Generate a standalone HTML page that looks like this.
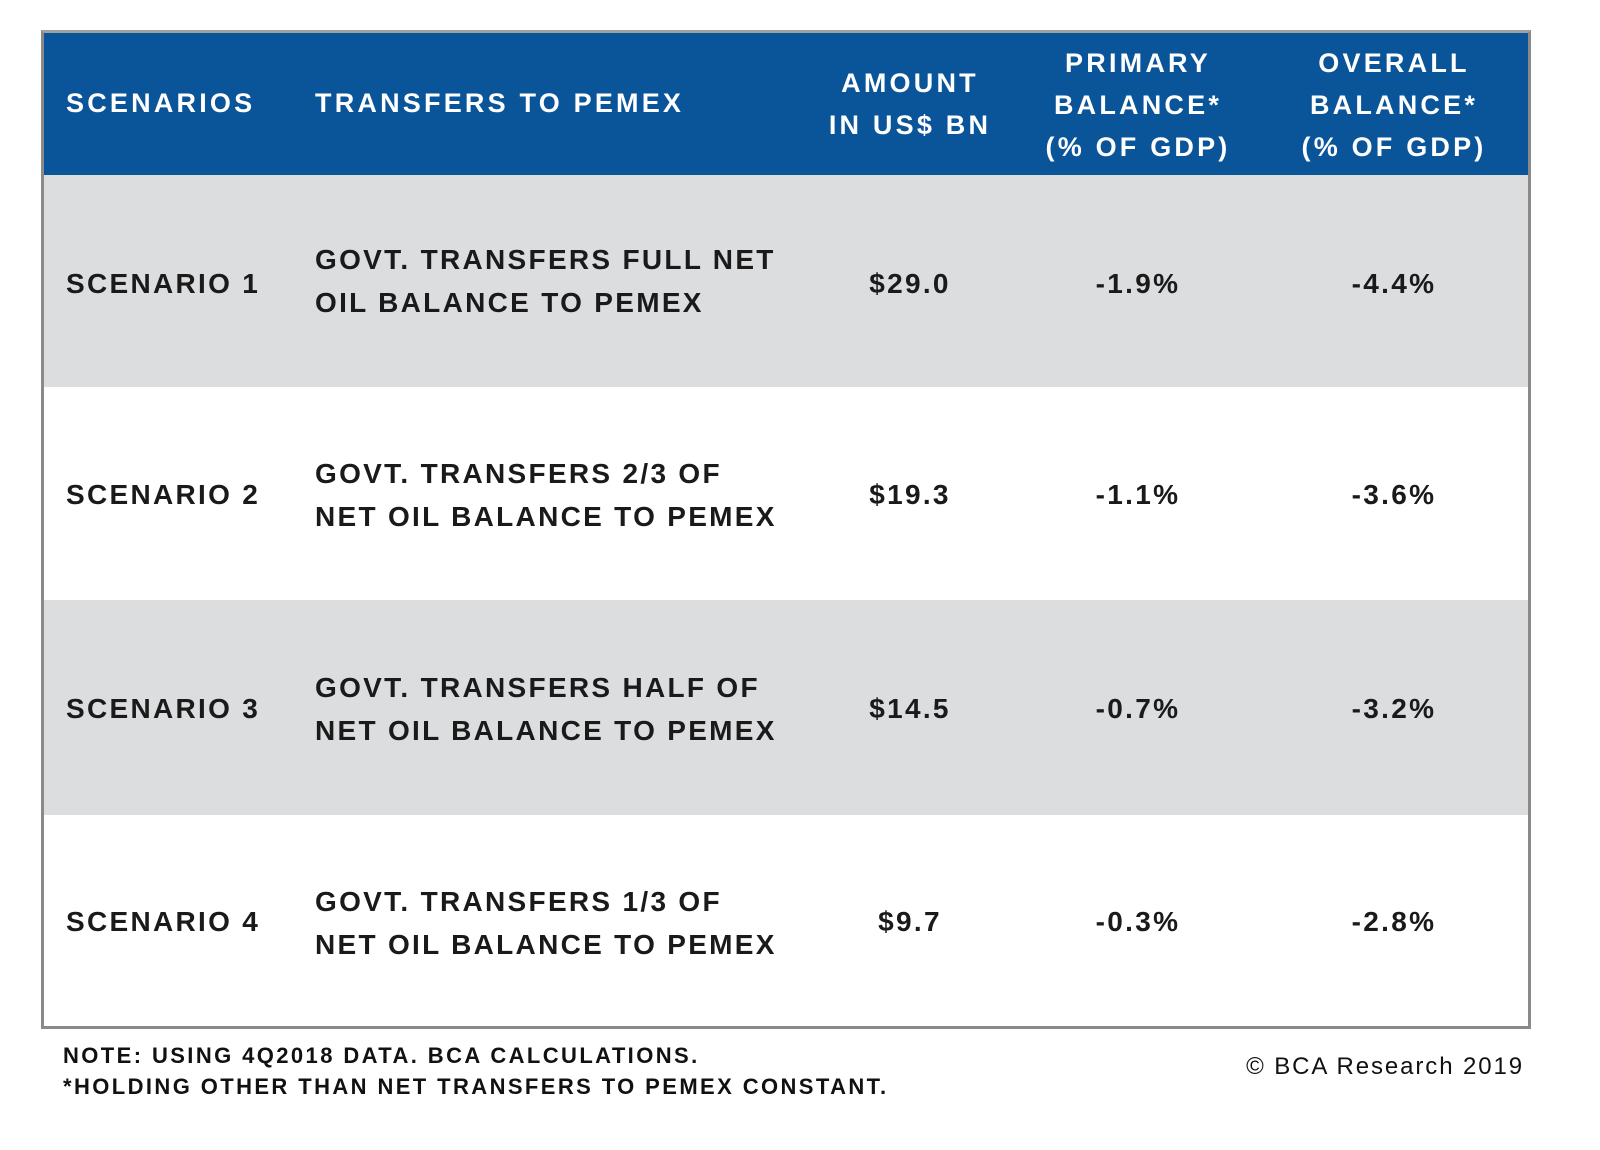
<!DOCTYPE html>
<html><head><meta charset="utf-8"><style>
body{margin:0;width:1600px;height:1150px;background:#fff;font-family:"Liberation Sans",Arial,sans-serif;position:relative;overflow:hidden}
.frame{position:absolute;left:41px;top:30px;width:1484px;height:993px;border:3px solid #8a8a8a;border-top-color:#a0a0a0}
.hdr{position:absolute;left:44px;top:33px;width:1484px;height:142px;background:#0a5499}
.row{position:absolute;left:44px;width:1484px}
.t{position:absolute;font-weight:bold;white-space:nowrap;line-height:1}
.h{color:#fff;font-size:27px;line-height:42px;letter-spacing:3.2px}
.c{text-align:center;transform:translateX(-50%)}
.b{color:#1a1a1a;font-size:28px;line-height:43px;letter-spacing:2.3px}
.n{position:absolute;font-weight:bold;font-size:22px;color:#111;white-space:nowrap;letter-spacing:2.4px}
</style></head><body>
<div class="frame"></div>
<div class="hdr"></div>
<div class="row" style="top:175px;height:212px;background:#dcdddf"></div>
<div class="row" style="top:387px;height:213px;background:#fff"></div>
<div class="row" style="top:600px;height:215px;background:#dcdddf"></div>
<div class="row" style="top:815px;height:208px;background:#fff"></div>

<div class="t h" style="left:66px;top:82px">SCENARIOS</div>
<div class="t h" style="left:315px;top:82px">TRANSFERS TO PEMEX</div>
<div class="t h c" style="left:910px;top:62px">AMOUNT<br>IN US$ BN</div>
<div class="t h c" style="left:1138px;top:42px">PRIMARY<br>BALANCE*<br>(% OF GDP)</div>
<div class="t h c" style="left:1394px;top:42px">OVERALL<br>BALANCE*<br>(% OF GDP)</div>

<div class="t b" style="left:66px;top:262px">SCENARIO 1</div>
<div class="t b" style="left:315px;top:238px">GOVT. TRANSFERS FULL NET<br>OIL BALANCE TO PEMEX</div>
<div class="t b c" style="left:910px;top:262px">$29.0</div>
<div class="t b c" style="left:1138px;top:262px">-1.9%</div>
<div class="t b c" style="left:1394px;top:262px">-4.4%</div>

<div class="t b" style="left:66px;top:473px">SCENARIO 2</div>
<div class="t b" style="left:315px;top:452px">GOVT. TRANSFERS 2/3 OF<br>NET OIL BALANCE TO PEMEX</div>
<div class="t b c" style="left:910px;top:473px">$19.3</div>
<div class="t b c" style="left:1138px;top:473px">-1.1%</div>
<div class="t b c" style="left:1394px;top:473px">-3.6%</div>

<div class="t b" style="left:66px;top:687px">SCENARIO 3</div>
<div class="t b" style="left:315px;top:666px">GOVT. TRANSFERS HALF OF<br>NET OIL BALANCE TO PEMEX</div>
<div class="t b c" style="left:910px;top:687px">$14.5</div>
<div class="t b c" style="left:1138px;top:687px">-0.7%</div>
<div class="t b c" style="left:1394px;top:687px">-3.2%</div>

<div class="t b" style="left:66px;top:900px">SCENARIO 4</div>
<div class="t b" style="left:315px;top:880px">GOVT. TRANSFERS 1/3 OF<br>NET OIL BALANCE TO PEMEX</div>
<div class="t b c" style="left:910px;top:900px">$9.7</div>
<div class="t b c" style="left:1138px;top:900px">-0.3%</div>
<div class="t b c" style="left:1394px;top:900px">-2.8%</div>

<div class="n" style="left:63px;top:1043px">NOTE: USING 4Q2018 DATA. BCA CALCULATIONS.</div>
<div class="n" style="left:63px;top:1074px">*HOLDING OTHER THAN NET TRANSFERS TO PEMEX CONSTANT.</div>
<div style="position:absolute;right:76px;top:1053px;font-size:24px;color:#111;white-space:nowrap;letter-spacing:1.9px">© BCA Research 2019</div>
</body></html>
